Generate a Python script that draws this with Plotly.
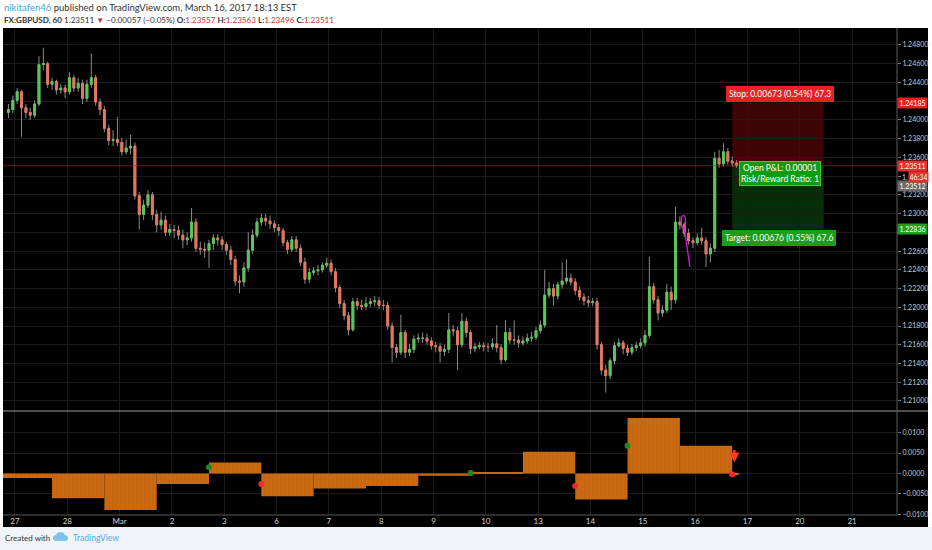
import plotly.graph_objects as go

# GBPUSD 2-hour candles, x = trading hours since Feb 27 00:00 (weekends removed)
bar_hours = list(range(-3, 333, 2))

closes = [
    1.2411, 1.2421, 1.2430, 1.2413, 1.2408, 1.2405, 1.2417, 1.2459, 1.2460, 1.2438, 1.2441, 1.2432,
    1.2434, 1.2430, 1.2445, 1.2434, 1.2439, 1.2423, 1.2438, 1.2445, 1.2419, 1.2411, 1.2391, 1.2378,
    1.2379, 1.2376, 1.2366, 1.2370, 1.2372, 1.2319, 1.2299, 1.2309, 1.2320, 1.2299, 1.2288, 1.2293,
    1.2280, 1.2283, 1.2282, 1.2277, 1.2272, 1.2274, 1.2291, 1.2263, 1.2262, 1.2261, 1.2268, 1.2274,
    1.2272, 1.2267, 1.2261, 1.2251, 1.2228, 1.2227, 1.2242, 1.2261, 1.2277, 1.2291, 1.2295, 1.2292,
    1.2289, 1.2285, 1.2282, 1.2269, 1.2262, 1.2272, 1.2263, 1.2248, 1.2230, 1.2237, 1.2239, 1.2240,
    1.2245, 1.2247, 1.2238, 1.2221, 1.2204, 1.2191, 1.2176, 1.2206, 1.2202, 1.2201, 1.2204, 1.2206,
    1.2207, 1.2202, 1.2202, 1.2180, 1.2157, 1.2152, 1.2173, 1.2152, 1.2155, 1.2166, 1.2167, 1.2167,
    1.2164, 1.2159, 1.2158, 1.2153, 1.2155, 1.2176, 1.2175, 1.2160, 1.2185, 1.2173, 1.2156, 1.2158,
    1.2159, 1.2158, 1.2158, 1.2161, 1.2157, 1.2144, 1.2173, 1.2165, 1.2165, 1.2162, 1.2164, 1.2167,
    1.2168, 1.2175, 1.2181, 1.2213, 1.2220, 1.2212, 1.2224, 1.2228, 1.2231, 1.2227, 1.2218, 1.2211,
    1.2207, 1.2205, 1.2206, 1.2160, 1.2133, 1.2127, 1.2143, 1.2159, 1.2162, 1.2156, 1.2152, 1.2157,
    1.2159, 1.2162, 1.2170, 1.2222, 1.2208, 1.2194, 1.2197, 1.2216, 1.2208, 1.2291, 1.2288, 1.2279,
    1.2271, 1.2269, 1.2274, 1.2271, 1.2257, 1.2263, 1.2359, 1.2353, 1.2366, 1.2356, 1.2354, 1.23511,
]
highs = [
    1.2417, 1.2426, 1.2434, 1.2432, 1.2417, 1.2413, 1.2421, 1.2468, 1.2477, 1.2462, 1.2445, 1.2443,
    1.2438, 1.2438, 1.2451, 1.2448, 1.2445, 1.2443, 1.2443, 1.2471, 1.2448, 1.2423, 1.2415, 1.2395,
    1.2389, 1.2403, 1.2381, 1.2379, 1.2384, 1.2376, 1.2323, 1.2315, 1.2325, 1.2323, 1.2304, 1.2302,
    1.2298, 1.2289, 1.2288, 1.2287, 1.2283, 1.2280, 1.2306, 1.2295, 1.2270, 1.2269, 1.2272, 1.2278,
    1.2278, 1.2276, 1.2270, 1.2266, 1.2255, 1.2234, 1.2248, 1.2280, 1.2283, 1.2295, 1.2300, 1.2300,
    1.2298, 1.2293, 1.2289, 1.2285, 1.2272, 1.2276, 1.2276, 1.2267, 1.2253, 1.2242, 1.2243, 1.2245,
    1.2248, 1.2253, 1.2251, 1.2242, 1.2224, 1.2208, 1.2195, 1.2210, 1.2210, 1.2208, 1.2211, 1.2210,
    1.2212, 1.2211, 1.2208, 1.2206, 1.2184, 1.2161, 1.2192, 1.2176, 1.2161, 1.2170, 1.2172, 1.2173,
    1.2172, 1.2168, 1.2163, 1.2162, 1.2160, 1.2194, 1.2181, 1.2179, 1.2194, 1.2189, 1.2176, 1.2162,
    1.2163, 1.2163, 1.2162, 1.2167, 1.2181, 1.2161, 1.2186, 1.2178, 1.2186, 1.2170, 1.2169, 1.2172,
    1.2174, 1.2179, 1.2186, 1.2240, 1.2227, 1.2225, 1.2227, 1.2248, 1.2251, 1.2236, 1.2231, 1.2222,
    1.2215, 1.2212, 1.2210, 1.2210, 1.2163, 1.2139, 1.2146, 1.2163, 1.2167, 1.2165, 1.2160, 1.2161,
    1.2163, 1.2167, 1.2176, 1.2254, 1.2226, 1.2212, 1.2202, 1.2225, 1.2222, 1.2307, 1.2297, 1.2291,
    1.2284, 1.2275, 1.2279, 1.2285, 1.2275, 1.2268, 1.2366, 1.2368, 1.2375, 1.2370, 1.2361, 1.2357,
]
lows = [
    1.2402, 1.2407, 1.2417, 1.2382, 1.2402, 1.2400, 1.2402, 1.2415, 1.2453, 1.2434, 1.2432, 1.2427,
    1.2428, 1.2423, 1.2427, 1.2430, 1.2430, 1.2417, 1.2419, 1.2434, 1.2415, 1.2405, 1.2387, 1.2373,
    1.2372, 1.2372, 1.2362, 1.2363, 1.2363, 1.2315, 1.2283, 1.2293, 1.2306, 1.2293, 1.2280, 1.2283,
    1.2276, 1.2276, 1.2274, 1.2272, 1.2263, 1.2266, 1.2270, 1.2259, 1.2256, 1.2253, 1.2242, 1.2261,
    1.2266, 1.2261, 1.2256, 1.2245, 1.2223, 1.2215, 1.2222, 1.2238, 1.2257, 1.2274, 1.2287, 1.2287,
    1.2284, 1.2280, 1.2276, 1.2265, 1.2257, 1.2259, 1.2259, 1.2244, 1.2225, 1.2226, 1.2234, 1.2234,
    1.2237, 1.2242, 1.2234, 1.2216, 1.2199, 1.2186, 1.2170, 1.2174, 1.2197, 1.2197, 1.2197, 1.2200,
    1.2201, 1.2198, 1.2197, 1.2176, 1.2141, 1.2146, 1.2149, 1.2146, 1.2148, 1.2151, 1.2162, 1.2162,
    1.2160, 1.2155, 1.2152, 1.2141, 1.2148, 1.2151, 1.2169, 1.2133, 1.2157, 1.2168, 1.2150, 1.2152,
    1.2155, 1.2153, 1.2152, 1.2155, 1.2152, 1.2139, 1.2142, 1.2161, 1.2160, 1.2157, 1.2159, 1.2161,
    1.2163, 1.2165, 1.2172, 1.2178, 1.2210, 1.2202, 1.2208, 1.2220, 1.2225, 1.2223, 1.2213, 1.2207,
    1.2202, 1.2200, 1.2201, 1.2155, 1.2128, 1.2109, 1.2123, 1.2139, 1.2157, 1.2150, 1.2148, 1.2149,
    1.2153, 1.2156, 1.2158, 1.2167, 1.2204, 1.2186, 1.2190, 1.2194, 1.2197, 1.2204, 1.2283, 1.2275,
    1.2267, 1.2263, 1.2266, 1.2267, 1.2243, 1.2248, 1.2259, 1.2349, 1.2350, 1.2352, 1.2350, 1.2349,
]
# forex candles open at the previous close
opens = [1.2408] + closes[:-1]

day_ticks = list(range(0, 385, 24))
day_labels = ["27", "28", "Mar", "2", "3", "6", "7", "8", "9", "10",
              "13", "14", "15", "16", "17", "20", "21"]

# price scale: levels whose labels sit under the coloured markers stay blank
price_ticks = [1.210, 1.212, 1.214, 1.216, 1.218, 1.220, 1.222, 1.224, 1.226, 1.228,
               1.230, 1.232, 1.234, 1.236, 1.238, 1.240, 1.242, 1.244, 1.246, 1.248]
price_labels = ["1.21000", "1.21200", "1.21400", "1.21600", "1.21800", "1.22000", "1.22200",
                "1.22400", "1.22600", "", "1.23000", "1.23200", "", "1.23600", "1.23800",
                "1.24000", "", "1.24400", "1.24600", "1.24800"]

# lower pane: one step per session (17:00 to 17:00)
hist_starts = [-7, 17, 41, 65, 89, 113, 137, 161, 185, 209, 233, 257, 281, 305, 329]
hist_ends = [17, 41, 65, 89, 113, 137, 161, 185, 209, 233, 257, 281, 305, 329, 332]
hist_values = [-0.0011, -0.0061, -0.0090, -0.0026, 0.0027, -0.0056, -0.0037, -0.0031,
               -0.0006, 0.0002, 0.0053, -0.0064, 0.0136, 0.0068, -0.0003]
signal_hours = [89, 113, 209, 257, 281, 329]
signal_values = [0.0015, -0.0026, 0.0001, -0.0031, 0.0068, -0.0002]
signal_colors = ["#1f8a1f", "#f02a2a", "#1f8a1f", "#f02a2a", "#1f8a1f", "#f02a2a"]

# short position tool
entry_price = 1.23512
stop_price = 1.24185
target_price = 1.22836
last_price = 1.23511
position_hours = [329, 371]

# hand drawn pen marks
pen_ellipse = [305.6, 307.6, 1.2284, 1.2298]
pen_line = [307.0, 1.2285, 309.6, 1.2243]

UP = "#58c958"
DOWN = "#e9765c"
WICK = "#8a8a8a"
GRID = "#1c1c1c"
AXIS_TXT = "#c8c8c8"


def px2x(px):
    return (px - 3) / 894


def py2y(py):
    return (515 - py) / 487


fig = go.Figure()

# wicks (grey) then coloured bodies
fig.add_trace(go.Candlestick(
    x=bar_hours, open=opens, high=highs, low=lows, close=closes,
    increasing=dict(line=dict(color=WICK, width=1), fillcolor="rgba(0,0,0,0)"),
    decreasing=dict(line=dict(color=WICK, width=1), fillcolor="rgba(0,0,0,0)"),
    whiskerwidth=0, hoverinfo="skip", xaxis="x", yaxis="y"))
body_hi = [max(o, c) for o, c in zip(opens, closes)]
body_lo = [min(o, c) for o, c in zip(opens, closes)]
fig.add_trace(go.Candlestick(
    x=bar_hours, open=opens, high=body_hi, low=body_lo, close=closes,
    increasing=dict(line=dict(color=UP, width=1), fillcolor=UP),
    decreasing=dict(line=dict(color=DOWN, width=1), fillcolor=DOWN),
    whiskerwidth=0, hoverinfo="skip", xaxis="x", yaxis="y"))

# lower pane histogram
fig.add_trace(go.Bar(
    x=[(a + b) / 2 for a, b in zip(hist_starts, hist_ends)],
    y=hist_values,
    width=[b - a for a, b in zip(hist_starts, hist_ends)],
    marker=dict(color="#cc6a12", line=dict(width=0),
                pattern=dict(shape="|", fgcolor="#a9560c", size=4, solidity=0.15)),
    hoverinfo="skip", xaxis="x2", yaxis="y2"))
fig.add_trace(go.Scatter(
    x=signal_hours, y=signal_values, mode="markers",
    marker=dict(size=6, color=signal_colors),
    hoverinfo="skip", xaxis="x2", yaxis="y2"))

shapes = [
    dict(type="rect", xref="paper", yref="paper", x0=px2x(3), x1=px2x(928),
         y0=py2y(527), y1=py2y(28), fillcolor="#000000", line_width=0, layer="below"),
    dict(type="rect", xref="paper", yref="paper", x0=px2x(0), x1=px2x(932),
         y0=py2y(550), y1=py2y(527), fillcolor="#f0f3f7", line_width=0, layer="below"),
    dict(type="rect", xref="x", yref="y", x0=position_hours[0], x1=position_hours[1],
         y0=entry_price, y1=stop_price, fillcolor="rgba(150,10,10,0.42)", line_width=0,
         layer="below"),
    dict(type="rect", xref="x", yref="y", x0=position_hours[0], x1=position_hours[1],
         y0=target_price, y1=entry_price, fillcolor="rgba(20,120,20,0.38)", line_width=0,
         layer="below"),
    dict(type="line", xref="paper", yref="y", x0=0, x1=1, y0=last_price, y1=last_price,
         line=dict(color="rgba(190,40,40,0.55)", width=1)),
    dict(type="line", xref="paper", yref="paper", x0=0, x1=px2x(928),
         y0=py2y(411), y1=py2y(411), line=dict(color="#9c9c9c", width=1)),
    dict(type="line", xref="paper", yref="paper", x0=1, x1=1,
         y0=py2y(515), y1=py2y(28), line=dict(color="#5a5a5a", width=1)),
    dict(type="line", xref="paper", yref="paper", x0=0, x1=1,
         y0=py2y(515), y1=py2y(515), line=dict(color="#5a5a5a", width=1)),
    dict(type="circle", xref="x", yref="y", x0=pen_ellipse[0], x1=pen_ellipse[1],
         y0=pen_ellipse[2], y1=pen_ellipse[3], line=dict(color="#d21ed2", width=1.3)),
    dict(type="line", xref="x", yref="y", x0=pen_line[0], y0=pen_line[1],
         x1=pen_line[2], y1=pen_line[3], line=dict(color="#d21ed2", width=1.3)),
    # TradingView cloud logo in the footer
    dict(type="circle", xref="paper", yref="paper", x0=px2x(53), x1=px2x(60),
         y0=py2y(541), y1=py2y(535), fillcolor="#7cc3ea", line_width=0),
    dict(type="circle", xref="paper", yref="paper", x0=px2x(56), x1=px2x(65),
         y0=py2y(541), y1=py2y(532), fillcolor="#7cc3ea", line_width=0),
    dict(type="circle", xref="paper", yref="paper", x0=px2x(61), x1=px2x(68),
         y0=py2y(541), y1=py2y(535), fillcolor="#7cc3ea", line_width=0),
]

FONT = "Lato"
red = "#c9342f"
annotations = [
    dict(xref="paper", yref="paper", x=px2x(2), y=py2y(7), xanchor="left", yanchor="middle",
         showarrow=False, font=dict(family=FONT, size=9.5, color="#333333"),
         text="<span style='color:#3aa9de'>nikitafen46</span> published on TradingView.com, "
              "March 16, 2017 18:13 EST"),
    dict(xref="paper", yref="paper", x=px2x(2), y=py2y(20), xanchor="left", yanchor="middle",
         showarrow=False, font=dict(family=FONT, size=8.1, color="#333333"),
         text=f"<b>FX:GBPUSD, 60</b> 1.23511 <span style='color:{red}'>▼</span> "
              f"−0.00057 (−0.05%) <b>O:</b><span style='color:{red}'>1.23557</span> "
              f"<b>H:</b><span style='color:{red}'>1.23563</span> "
              f"<b>L:</b><span style='color:{red}'>1.23496</span> "
              f"<b>C:</b><span style='color:{red}'>1.23511</span>"),
    dict(xref="paper", yref="paper", x=px2x(3), y=py2y(538), xanchor="left", yanchor="middle",
         showarrow=False, font=dict(family=FONT, size=8, color="#333333"), text="Created with"),
    dict(xref="paper", yref="paper", x=px2x(71), y=py2y(538), xanchor="left", yanchor="middle",
         showarrow=False, font=dict(family=FONT, size=8.5, color="#48aee2"), text="TradingView"),
    # position tool labels
    dict(x=351, y=stop_price, xref="x", yref="y", yanchor="bottom", yshift=1, showarrow=False,
         text="Stop: 0.00673 (0.54%) 67.3", bgcolor="#e82222", bordercolor="#e82222",
         borderpad=2, font=dict(family=FONT, size=8.5, color="white")),
    dict(x=350.7, y=entry_price, xref="x", yref="y", yanchor="top", yshift=5, showarrow=False,
         text="Open P&amp;L: 0.00001<br>Risk/Reward Ratio: 1", bgcolor="#139a13",
         bordercolor="#46c646", borderpad=1, font=dict(family=FONT, size=8.5, color="white")),
    dict(x=350.5, y=target_price, xref="x", yref="y", yanchor="top", yshift=-1, showarrow=False,
         text="Target: 0.00676 (0.55%) 67.6", bgcolor="#199e19", bordercolor="#199e19",
         borderpad=2, font=dict(family=FONT, size=8.5, color="white")),
    # sell arrow in the lower pane
    dict(x=330, y=0.0027, xref="x2", yref="y2", ax=0, ay=-14, showarrow=True, text="",
         arrowhead=2, arrowsize=0.8, arrowwidth=2.5, arrowcolor="#ff3a1c"),
]

# price scale markers
for price, label, color, shift in [
        (stop_price, "1.24185", "#f01c1c", 0),
        (last_price, "1.23511", "#e53030", 0),
        (entry_price, "1.23512", "#6a6a6a", -20),
        (target_price, "1.22836", "#1f9e1f", 0)]:
    annotations.append(dict(
        xref="paper", yref="y", x=1, y=price, xanchor="left", yanchor="middle", yshift=shift,
        showarrow=False, text=label, bgcolor=color, width=27, borderpad=1,
        font=dict(family=FONT, size=7, color="white")))
# bar countdown, partly covering the 1.23400 level label
annotations.append(dict(
    xref="paper", yref="y", x=px2x(900), y=last_price, xanchor="left", yanchor="middle",
    yshift=-11, showarrow=False, text="1.", font=dict(family=FONT, size=7, color=AXIS_TXT)))
annotations.append(dict(
    xref="paper", yref="y", x=px2x(908), y=last_price, xanchor="left", yanchor="middle",
    yshift=-11, showarrow=False, text="46:34", bgcolor="#e53030", width=17, borderpad=1,
    font=dict(family=FONT, size=7, color="white")))

split = 104 / 487
axis_font = dict(family=FONT, size=7, color=AXIS_TXT)
fig.update_layout(
    width=932, height=550,
    margin=dict(l=3, r=35, t=28, b=35),
    paper_bgcolor="white", plot_bgcolor="black",
    showlegend=False, hovermode=False, boxgap=0.4,
    shapes=shapes, annotations=annotations,
    xaxis=dict(domain=[0, 1], anchor="y", range=[-5.5, 404.6], tickvals=day_ticks,
               showticklabels=False, showgrid=True, gridcolor=GRID, zeroline=False,
               rangeslider=dict(visible=False), fixedrange=True),
    xaxis2=dict(domain=[0, 1], anchor="y2", matches="x", tickvals=day_ticks,
                ticktext=day_labels, showgrid=True, gridcolor=GRID, zeroline=False,
                tickfont=dict(family=FONT, size=8, color="#d0d0d0"), ticks=""),
    yaxis=dict(domain=[split, 1], anchor="x", side="right", range=[1.20893, 1.24981],
               tickvals=price_ticks, ticktext=price_labels, showgrid=True, gridcolor=GRID,
               zeroline=False, ticks="outside", ticklen=3, tickcolor="#777777",
               tickfont=axis_font),
    yaxis2=dict(domain=[0, split], anchor="x2", side="right", range=[-0.0102, 0.0153],
                tickvals=[-0.01, -0.005, 0, 0.005, 0.01], tickformat=".4f", showgrid=True,
                gridcolor=GRID, zeroline=False, ticks="outside", ticklen=3,
                tickcolor="#777777", tickfont=axis_font),
)

# page body has a default 8px margin; drop it so the figure fills the window
fig.write_html("out.html", config={"displayModeBar": False},
               post_script="document.body.style.margin='0';")
